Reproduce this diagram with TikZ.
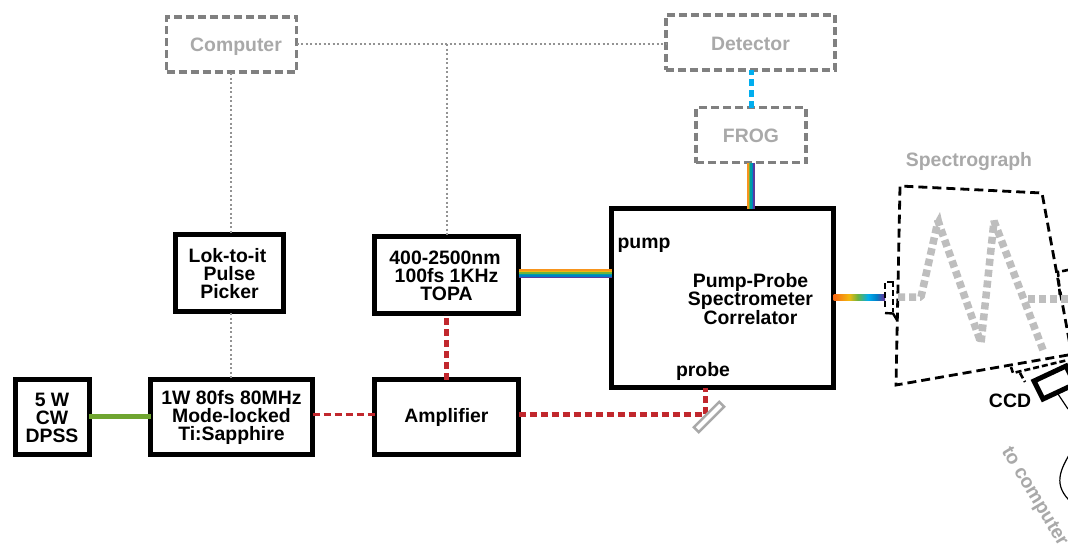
\documentclass[tikz,border=0pt]{standalone}
\usepackage{fontspec}
\setmainfont{Liberation Sans}
\usetikzlibrary{calc}
\definecolor{txtgray}{HTML}{A9A9A9}
\definecolor{boxgray}{HTML}{808080}
\definecolor{beamgray}{HTML}{BEBEBE}
\definecolor{lasergreen}{HTML}{6FA530}
\definecolor{laserred}{HTML}{C1272D}
\definecolor{lasercyan}{HTML}{00AEEF}
\definecolor{rbOrange}{HTML}{F7941D}
\definecolor{rbYellow}{HTML}{F2B90F}
\definecolor{rbGreen}{HTML}{6CB33F}
\definecolor{rbTeal}{HTML}{00A0A0}
\definecolor{rbBlue}{HTML}{0080C8}
\definecolor{rbPurple}{HTML}{5B3A9E}
\pgfdeclarehorizontalshading{rainbowh}{100bp}{
 color(0bp)=(rbOrange!70!red); color(25bp)=(rbOrange!70!red); color(40bp)=(rbYellow); color(48.5bp)=(rbGreen); color(58.5bp)=(lasercyan); color(66.5bp)=(rbBlue); color(73.5bp)=(rbPurple); color(100bp)=(rbPurple)}
\newcommand{\dn}{\rule{0pt}{16pt}}
\tikzset{
 x=1pt,y=-1pt,
 every node/.style={font=\fontsize{19.4}{18}\selectfont\bfseries,align=center,inner sep=0pt,outer sep=0pt},
 solidbox/.style={draw=black,line width=5pt},
 ghostbox/.style={draw=boxgray,line width=3.4pt,dash pattern=on 8pt off 4pt,text=txtgray},
 ghostlabel/.style={text=txtgray},
 infoline/.style={draw=boxgray!85,line width=1.1pt,dash pattern=on 2pt off 2.5pt},
 redthin/.style={draw=laserred,line width=3pt,dash pattern=on 7pt off 4pt},
 redthick/.style={draw=laserred,line width=5pt,dash pattern=on 7pt off 4pt},
 scopeline/.style={draw=black,line width=2.8pt,dash pattern=on 9pt off 5pt},
 portline/.style={draw=black,line width=2.6pt,dash pattern=on 6pt off 3pt},
 graybeam/.style={draw=beamgray,line width=7.5pt,dash pattern=on 7pt off 4pt,line join=bevel},
 ribbon/.style={line width=1.5pt}
}
\begin{document}
\begin{tikzpicture}
\useasboundingbox (0,0) rectangle (1068,544);
\clip (0,0) rectangle (1068,544);
\fill[white] (0,0) rectangle (1068,544);

% ghost boxes
\node[ghostbox,minimum width=130pt,minimum height=55pt] (computer) at (231.5,44.5) {\hspace*{9pt}\rule{0pt}{18pt}Computer};
\node[ghostbox,minimum width=169pt,minimum height=55pt] (detector) at (750.5,42.5) {\dn Detector};
\node[ghostbox,minimum width=110pt,minimum height=55pt] (frog) at (751,135) {\dn FROG};

% solid boxes
\node[solidbox,minimum width=74pt,minimum height=75pt] (dpss) at (52,417) {\dn 5 W\\CW\\DPSS};
\node[solidbox,minimum width=162pt,minimum height=75pt] (tisa) at (231.5,417) {\dn 1W 80fs 80MHz\\Mode-locked\\Ti:Sapphire};
\node[solidbox,minimum width=108pt,minimum height=77pt] (lok) at (229.5,273) {\dn\hspace*{-4pt}Lok-to-it\\Pulse\\Picker};
\node[solidbox,minimum width=144pt,minimum height=77pt] (topa) at (446.5,275) {\dn\hspace*{-3pt}400-2500nm\\100fs 1KHz\\TOPA};
\node[solidbox,minimum width=144pt,minimum height=75pt] (amp) at (446.5,417) {\dn Amplifier};
\node[solidbox,minimum width=222pt,minimum height=179pt] (main) at (722.5,298) {};
\node (pumplabel) at (644,245) {pump};
\node (probelabel) at (703,371) {probe};
\node (mainlabel) at (750.5,299) {Pump-Probe\\Spectrometer\\Correlator};

% info lines
\coordinate (topjoin) at (447,44);
\draw[infoline] (computer.east |- topjoin) -- (detector.west |- topjoin);
\draw[infoline] (topjoin) -- (topjoin |- topa.north);
\draw[infoline] (231,73) -- (231,234);
\draw[infoline] (231,313) -- (231,378);

% lasers
\draw[draw=lasergreen,line width=5pt] ([yshift=1pt]dpss.east) -- ([yshift=1pt]tisa.west);
\coordinate (fold) at (705,414.5);
\draw[redthin] (tisa.east |- fold) -- (amp.west |- fold);
\draw[redthick] (amp.north) -- (topa.south);
\draw[redthick] (amp.east |- fold) -- (fold) -- (fold |- main.south);
\draw[draw=lasercyan,line width=5pt,dash pattern=on 7pt off 4pt] (frog.north) -- (frog.north |- detector.south);

% mirror
\node[draw=txtgray,line width=2.5pt,rotate=45,minimum width=36pt,minimum height=7pt] (mirror) at (709,417) {};

% rainbow ribbons
\foreach \c/\o in {rbOrange/-4.5,rbYellow/-3,rbGreen/-1.5,rbTeal/0,rbBlue/1.5,rbPurple/3}{
 \draw[ribbon,draw=\c] ([yshift=-\o pt+0.5pt]topa.east) -- ([yshift=-\o pt+0.5pt]topa.east -| main.west);
}
\coordinate (frogbeam) at (751,163);
\foreach \c/\o in {rbOrange/-3.2,rbGreen/-1.6,rbTeal/0,rbBlue/1.6,rbPurple/3.2}{
 \draw[ribbon,line width=1.7pt,draw=\c] ([xshift=\o pt]frogbeam) -- ([xshift=\o pt]frogbeam |- main.north);
}

% spectrograph
\node[ghostlabel] (speclabel) at (969,162) {Spectrograph};
\coordinate (sgA) at (900,186);
\coordinate (sgB) at (1042,193);
\coordinate (sgD) at (896,385);
\coordinate (sgE) at (1068,355);
\draw[scopeline] (sgE) -- (sgD) -- (sgA) -- (sgB) -- (1070,345);
\coordinate (bs) at (898,297);
\draw[graybeam] (bs) -- (921,297) -- (938,221) -- (981,343) -- (994,221) -- (1043,350);
\fill[beamgray] (934.5,222) -- (940,212) -- (943,225) -- cycle;
\draw[graybeam] (1028,299) -- (1068,299);
\shade[shading=rainbowh] (main.east |- 0,294) rectangle (885,300.5);

% entrance port
\draw[portline] (893,282) -- (885,282) -- (885,309);
\draw[portline] (893,281) -- (893,312);
\draw[draw=black,line width=2.4pt] (885,313) -- (893,313.5) -- (897,320);
% exit port
\draw[portline] (1068,270) -- (1058,272) -- (1060,297);

% CCD
\draw[portline] (1011,367) -- (1013,373) -- (1068,360);
\draw[portline] (1020,373) -- (1025,382);
\draw[draw=black,line width=5pt,line join=miter,fill=white] (1034,381) -- (1066,366) -- (1075,384) -- (1043,399) -- cycle;
\draw[draw=black,line width=1.2pt] (1058,394) -- (1068,409);
\draw[draw=black,line width=1.2pt] (1072,450) .. controls (1060,470) and (1052,485) .. (1072,503);
\node (ccdlabel) at (1010,401) {CCD};
\node[ghostlabel,rotate=-59,anchor=west] (tocomp) at (1005,449) {to computer};
\end{tikzpicture}
\end{document}
